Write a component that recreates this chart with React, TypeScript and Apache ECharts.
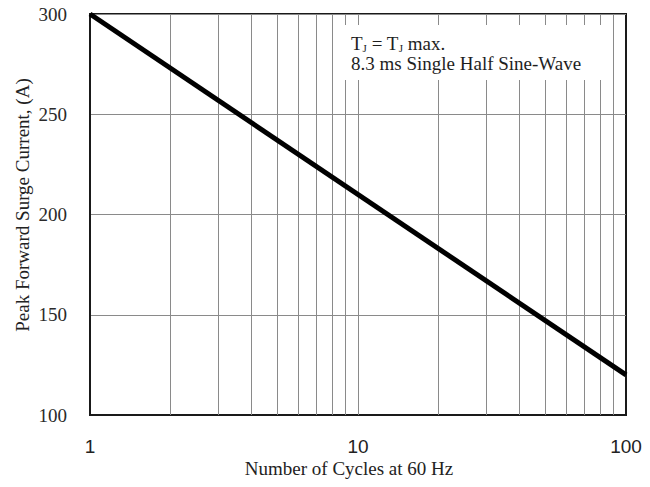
import React, { useEffect, useRef } from "react";
import * as echarts from "echarts";

const cycles = [1, 100];
const surgeCurrent = [300, 120];
const minorGridCycles = [2, 3, 4, 5, 6, 7, 8, 9, 10, 20, 30, 40, 50, 60, 70, 80, 90];
const yTicks = { min: 100, max: 300, interval: 50 };
const xTitle = "Number of Cycles at 60 Hz";
const yTitle = "Peak Forward Surge Current, (A)";
const noteLine2 = "8.3 ms Single Half Sine-Wave";

const SERIF = "'Liberation Serif', 'Times New Roman', serif";
const SANS = "'Liberation Sans', Arial, sans-serif";

const NOTE_BOX = { x: 339, y: 25, width: 267, height: 55 };

export default function App() {
  const ref = useRef<HTMLDivElement>(null);
  useEffect(() => {
    if (!ref.current) return;
    const chart = echarts.init(ref.current, undefined, { renderer: "svg" });
    chart.setOption({
      animation: false,
      backgroundColor: "#fff",
      grid: {
        left: 90,
        top: 14,
        right: 24,
        bottom: 72,
        show: true,
        borderColor: "#1a1a1a",
        borderWidth: 2,
        backgroundColor: "transparent",
      },
      xAxis: {
        type: "log",
        logBase: 10,
        min: 1,
        max: 100,
        axisLine: { show: true, lineStyle: { color: "#1a1a1a", width: 2 } },
        axisTick: { show: false },
        splitLine: { show: false },
        minorTick: { show: false },
        minorSplitLine: { show: false },
        axisLabel: {
          fontFamily: SANS,
          fontSize: 19,
          color: "#222",
          margin: 22,
        },
      },
      yAxis: {
        type: "value",
        min: yTicks.min,
        max: yTicks.max,
        interval: yTicks.interval,
        axisLine: { show: true, lineStyle: { color: "#1a1a1a", width: 2 } },
        axisTick: { show: false },
        splitLine: { show: true, lineStyle: { color: "#8a8a8a", width: 1 } },
        axisLabel: {
          fontFamily: SERIF,
          fontSize: 19,
          color: "#2a2a2a",
          margin: 23,
        },
      },
      series: [
        {
          type: "line",
          data: [],
          z: 1,
          silent: true,
          markLine: {
            silent: true,
            symbol: ["none", "none"],
            label: { show: false },
            lineStyle: { color: "#8a8a8a", width: 1, type: "solid" },
            data: minorGridCycles.map((v) => ({ xAxis: v })),
          },
        },
        {
          type: "line",
          z: 5,
          data: cycles.map((c, i) => [c, surgeCurrent[i]]),
          showSymbol: false,
          symbol: "none",
          lineStyle: { color: "#000", width: 5 },
        },
      ],
      graphic: [
        {
          type: "rect",
          z: 100,
          shape: { x: NOTE_BOX.x, y: NOTE_BOX.y, width: NOTE_BOX.width, height: NOTE_BOX.height },
          style: { fill: "#ffffff" },
        },
        {
          type: "text",
          z: 101,
          x: 351,
          y: 33,
          style: {
            text: "{m|T}{s|J}{m| = T}{s|J}{m| max.}\n{m|" + noteLine2 + "}",
            rich: {
              m: { fontFamily: SERIF, fontSize: 19, fill: "#1e1e1e", lineHeight: 20, verticalAlign: "bottom" },
              s: { fontFamily: SERIF, fontSize: 11, fill: "#1e1e1e", lineHeight: 10, verticalAlign: "bottom" },
            },
          },
        },
        {
          type: "text",
          x: 349,
          y: 459,
          style: {
            text: xTitle,
            fontFamily: SERIF,
            fontSize: 19,
            fill: "#222",
            align: "center",
          },
        },
        {
          type: "text",
          x: 22,
          y: 205,
          rotation: Math.PI / 2,
          style: {
            text: yTitle,
            fontFamily: SERIF,
            fontSize: 19,
            fill: "#222",
            align: "center",
            verticalAlign: "middle",
          },
        },
      ],
    });
    return () => chart.dispose();
  }, []);
  return <div ref={ref} style={{ width: 650, height: 487, margin: -8 }} />;
}
